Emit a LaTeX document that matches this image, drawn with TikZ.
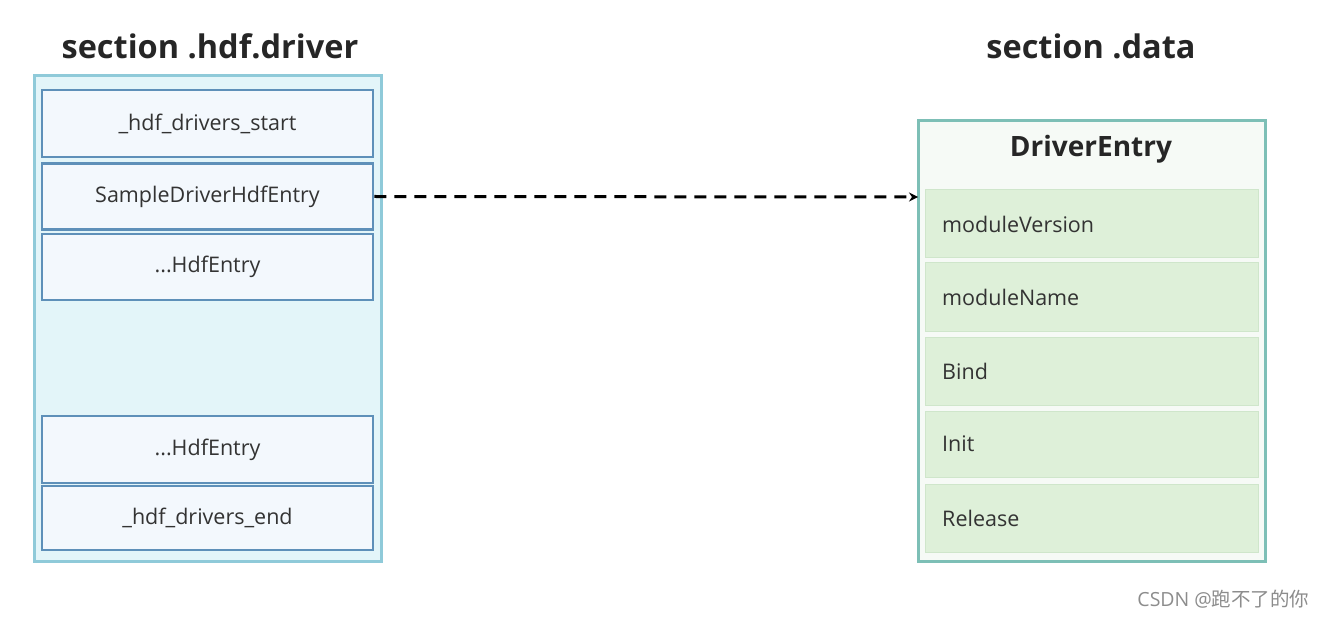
\documentclass[tikz,border=0pt]{standalone}
\usepackage{fontspec}
\setmainfont{Open Sans}
\newfontfamily\cjk{Noto Sans CJK SC}
\usetikzlibrary{arrows.meta}
\definecolor{outerfill}{HTML}{E3F5F9}
\definecolor{outerline}{HTML}{8FCAD9}
\definecolor{innerfill}{HTML}{F3F8FD}
\definecolor{innerline}{HTML}{5E90B9}
\definecolor{rightline}{HTML}{7DBFB6}
\definecolor{headfill}{HTML}{F6FAF6}
\definecolor{rowfill}{HTML}{DEF0D9}
\definecolor{rowline}{HTML}{CFE6CB}
\definecolor{txt}{HTML}{333333}
\tikzset{
  outerbox/.style={draw=outerline, fill=outerfill, line width=3pt},
  innerbox/.style={draw=innerline, fill=innerfill, line width=2.5pt, minimum width=331pt, inner sep=0pt, text=txt, font=\fontsize{21.5}{24}\selectfont},
  rightbox/.style={draw=rightline, fill=headfill, line width=3pt},
  rowbox/.style={draw=rowline, fill=rowfill, line width=1pt, minimum width=333pt, inner sep=0pt},
  rowtext/.style={anchor=west, text=txt, font=\fontsize{21.5}{24}\selectfont, inner sep=0pt},
  title/.style={font=\bfseries\fontsize{32.5}{36}\selectfont, text=black!85},
}
\begin{document}
\begin{tikzpicture}[x=1pt,y=-1pt]
\useasboundingbox (0,0) rectangle (1329,617);
% titles
\node[title] (t1) at (210,46) {section .hdf.driver};
\node[title] (t2) at (1091,46) {section .data};
% left
\draw[outerbox] (34,76) rectangle (381,561);
\node[innerbox, minimum height=67pt] (s) at (207.5,123.5) {\_hdf\_drivers\_start};
\node[innerbox, minimum height=66pt] (sample) at (207.5,196.5) {SampleDriverHdfEntry};
\node[innerbox, minimum height=66pt] (h1) at (207.5,267) {...HdfEntry};
\node[innerbox, minimum height=67pt] (h2) at (207.5,449.5) {...HdfEntry};
\node[innerbox, minimum height=64pt] (e) at (207.5,518) {\_hdf\_drivers\_end};
% right
\draw[rightbox] (918,121) rectangle (1265,561);
\node[font=\bfseries\fontsize{28}{32}\selectfont, text=black!85] (de) at (1091,149) {DriverEntry};
\node[rowbox, minimum height=68pt] (r1) at (1091.5,224) {};
\node[rowbox, minimum height=68pt] (r2) at (1091.5,297) {};
\node[rowbox, minimum height=68pt] (r3) at (1091.5,371) {};
\node[rowbox, minimum height=66pt] (r4) at (1091.5,444) {};
\node[rowbox, minimum height=68pt] (r5) at (1091.5,518) {};
\node[rowtext] (l1) at (942,224) {moduleVersion};
\node[rowtext] (l2) at (942,297) {moduleName};
\node[rowtext] (l3) at (942,371) {Bind};
\node[rowtext] (l4) at (942,444) {Init};
\node[rowtext] (l5) at (942,518) {Release};
% arrow
\coordinate (tgt) at (918,197);
\draw[line width=3pt, dash pattern=on 12pt off 8pt, -{Stealth[length=9pt,width=9pt]}] (sample.east) -- (tgt);
% watermark
\node[text=black!45, font=\fontsize{19.5}{22}\selectfont, anchor=east] (wm) at (1313,599) {CSDN @{\cjk 跑不了的你}};
\end{tikzpicture}
\end{document}
